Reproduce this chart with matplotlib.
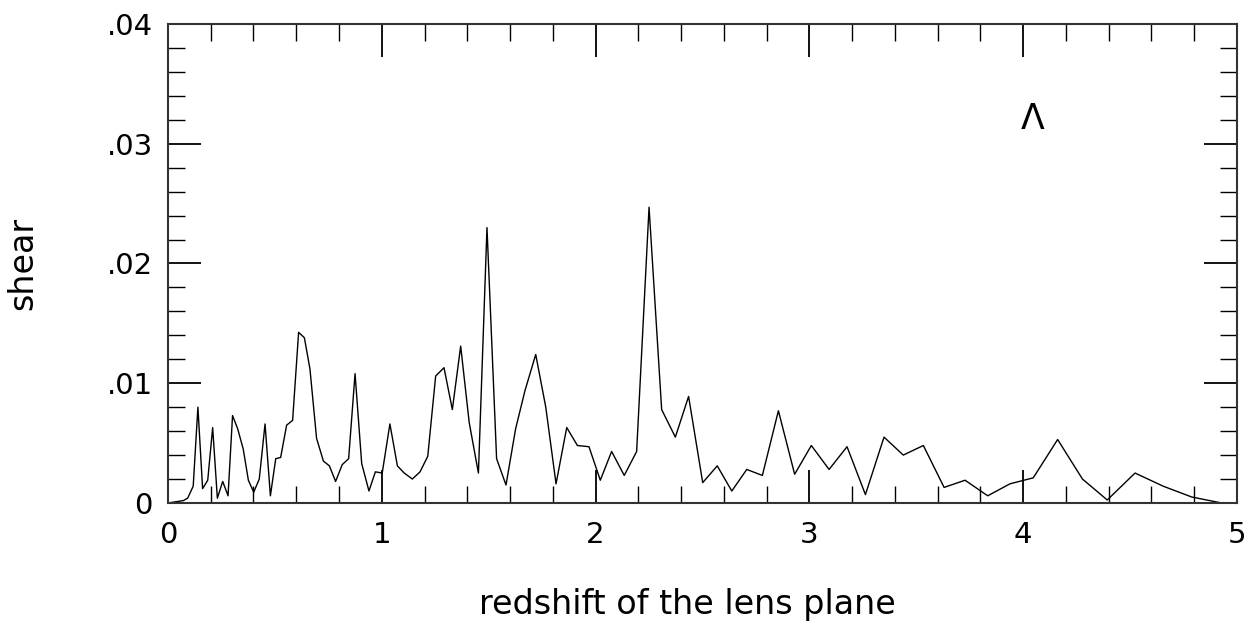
import numpy as np
import matplotlib
matplotlib.use("Agg")
import matplotlib.pyplot as plt
from matplotlib.ticker import FixedLocator, MultipleLocator, FixedFormatter

# datos
redshift = [0, 0.072, 0.092, 0.118, 0.140, 0.162, 0.186, 0.209, 0.231, 0.256,
            0.281, 0.302, 0.326, 0.352, 0.376, 0.401, 0.427, 0.454, 0.479, 0.504,
            0.527, 0.555, 0.583, 0.611, 0.638, 0.664, 0.695, 0.727, 0.755, 0.784,
            0.815, 0.845, 0.875, 0.906, 0.940, 0.970, 1.002, 1.038, 1.073, 1.105,
            1.143, 1.179, 1.215, 1.252, 1.291, 1.330, 1.369, 1.409, 1.452, 1.492,
            1.537, 1.581, 1.626, 1.670, 1.720, 1.767, 1.815, 1.865, 1.915, 1.969,
            2.022, 2.075, 2.134, 2.192, 2.250, 2.309, 2.373, 2.435, 2.501, 2.569,
            2.637, 2.707, 2.780, 2.855, 2.931, 3.009, 3.092, 3.176, 3.262, 3.349,
            3.439, 3.533, 3.630, 3.728, 3.834, 3.938, 4.047, 4.161, 4.277, 4.393,
            4.523, 4.655, 4.788, 4.928]

shear = [0, 0.0002, 0.0004, 0.0014, 0.0080, 0.0012, 0.0019, 0.0063, 0.0004, 0.0018,
         0.0006, 0.0073, 0.0062, 0.0045, 0.0019, 0.0009, 0.0020, 0.0066, 0.0006, 0.0037,
         0.0038, 0.0065, 0.0069, 0.01425, 0.0138, 0.0112, 0.0054, 0.0035, 0.0031, 0.0018,
         0.0032, 0.0037, 0.0108, 0.0033, 0.0010, 0.0026, 0.0025, 0.0066, 0.0031, 0.0025,
         0.0020, 0.0026, 0.0039, 0.0106, 0.0113, 0.0078, 0.0131, 0.0067, 0.0025, 0.0230,
         0.0037, 0.0015, 0.0062, 0.0094, 0.0124, 0.0080, 0.0016, 0.0063, 0.0048, 0.0047,
         0.0019, 0.0043, 0.0023, 0.0043, 0.0247, 0.0078, 0.0055, 0.0089, 0.0017, 0.0031,
         0.0010, 0.0028, 0.0023, 0.0077, 0.0024, 0.0048, 0.0028, 0.0047, 0.0007, 0.0055,
         0.0040, 0.0048, 0.0013, 0.0019, 0.0006, 0.0016, 0.0021, 0.0053, 0.0020, 0.00025,
         0.0025, 0.0014, 0.0005, 0.0]

x_ticks = [0, 1, 2, 3, 4, 5]
y_ticks = [0, 0.01, 0.02, 0.03, 0.04]
y_tick_labels = ['0', '.01', '.02', '.03', '.04']

plt.rcParams['font.family'] = 'DejaVu Sans'

fig = plt.figure(figsize=(12.47, 6.27), dpi=100)
ax = fig.add_axes([0.1347, 0.1978, 0.8573, 0.7639])

ax.plot(redshift, shear, color='black', linewidth=1.0)

ax.set_xlim(0, 5)
ax.set_ylim(0, 0.04)

ax.xaxis.set_major_locator(FixedLocator(x_ticks))
ax.xaxis.set_minor_locator(MultipleLocator(0.2))
ax.yaxis.set_major_locator(FixedLocator(y_ticks))
ax.yaxis.set_minor_locator(MultipleLocator(0.002))
ax.yaxis.set_major_formatter(FixedFormatter(y_tick_labels))

ax.tick_params(which='both', direction='in', top=True, right=True, colors='black')
ax.tick_params(which='major', length=23.5, width=1.3, labelsize=21)
ax.tick_params(which='minor', length=12, width=1.0)
ax.tick_params(axis='x', which='major', pad=13)
ax.tick_params(axis='y', which='major', pad=11)

for sp in ax.spines.values():
    sp.set_linewidth(1.5)
    sp.set_color('#333333')

ax.set_xlabel('redshift of the lens plane', fontsize=24, va='center')
ax.xaxis.set_label_coords(0.4855, -0.213)
ax.set_ylabel('shear', fontsize=24, va='center')
ax.yaxis.set_label_coords(-0.1356, 0.5)

ax.text(4.046, 0.0321, 'Λ', fontsize=25, ha='center', va='center')

fig.savefig('out.png', dpi=100)
